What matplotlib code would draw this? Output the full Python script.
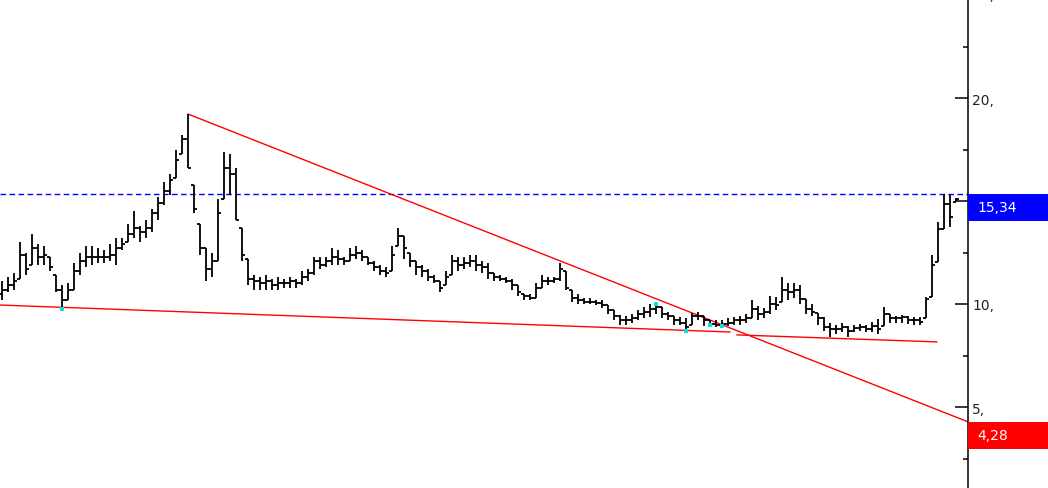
import numpy as np
import matplotlib
matplotlib.use("Agg")
import matplotlib.pyplot as plt
from matplotlib.patches import Rectangle
from matplotlib.transforms import blended_transform_factory

# ---------------- data ----------------
highs = [11.1, 11.3, 11.5, 13.0, 12.5, 13.4, 12.9, 12.8, 12.3, 11.4,
         10.9, 11.0, 12.0, 12.5, 12.8, 12.8, 12.7, 12.6, 12.9, 13.2,
         13.2, 13.9, 14.5, 13.8, 14.1, 14.6, 15.2, 15.9, 16.3, 17.5,
         18.2, 19.22, 15.8, 13.9, 12.7, 12.5, 15.1, 17.4, 17.3, 16.6,
         13.7, 12.2, 11.4, 11.3, 11.4, 11.2, 11.3, 11.2, 11.3, 11.2,
         11.6, 11.7, 12.3, 12.3, 12.3, 12.7, 12.6, 12.3, 12.7, 12.8,
         12.6, 12.3, 12.1, 11.9, 11.8, 12.8, 13.7, 13.3, 12.5, 12.1,
         11.9, 11.7, 11.4, 11.1, 11.6, 12.4, 12.3, 12.3, 12.4, 12.4,
         12.1, 12.0, 11.5, 11.4, 11.3, 11.2, 10.9, 10.5, 10.5, 11.0,
         11.4, 11.3, 11.3, 12.0, 11.6, 10.7, 10.5, 10.3, 10.3, 10.2,
         10.2, 9.95, 9.7, 9.45, 9.4, 9.5, 9.7, 9.85, 10.0, 10.05,
         9.85, 9.6, 9.4, 9.35, 9.3, 9.55, 9.6, 9.4, 9.2, 9.2,
         9.2, 9.3, 9.35, 9.4, 9.5, 10.2, 9.9, 9.8, 10.4, 10.35,
         11.3, 11.0, 11.0, 10.9, 10.25, 10.0, 9.55, 9.35, 9.1, 9.0,
         9.1, 8.95, 9.0, 9.05, 9.0, 9.15, 9.25, 9.85, 9.5, 9.4,
         9.45, 9.4, 9.35, 9.35, 10.35, 12.4, 14.0, 15.34, 15.3, 15.15]

lows = [10.2, 10.6, 10.7, 11.2, 11.4, 11.9, 11.9, 11.9, 11.6, 10.6,
        9.76, 10.2, 10.7, 11.4, 11.8, 11.9, 12.0, 12.0, 12.1, 11.9,
        12.6, 13.0, 13.2, 13.0, 13.2, 13.5, 14.1, 14.8, 15.3, 16.1,
        17.3, 16.6, 14.4, 12.4, 11.1, 11.3, 12.1, 15.1, 15.3, 14.1,
        12.1, 10.9, 10.7, 10.7, 10.7, 10.7, 10.7, 10.8, 10.8, 10.8,
        10.9, 11.1, 11.4, 11.7, 11.8, 11.9, 11.9, 11.9, 12.1, 12.2,
        12.1, 11.9, 11.6, 11.4, 11.3, 11.6, 12.8, 12.2, 11.8, 11.4,
        11.3, 11.1, 11.0, 10.6, 10.9, 11.4, 11.6, 11.7, 11.8, 11.6,
        11.5, 11.2, 11.1, 11.1, 11.0, 10.7, 10.4, 10.2, 10.2, 10.3,
        10.8, 10.9, 11.0, 11.1, 10.7, 10.1, 10.0, 10.0, 10.0, 9.95,
        9.8, 9.5, 9.2, 9.0, 9.0, 9.1, 9.2, 9.3, 9.35, 9.5,
        9.3, 9.2, 9.0, 9.0, 8.65, 9.0, 9.2, 8.95, 8.9, 8.9,
        8.9, 8.95, 9.0, 9.0, 9.1, 9.3, 9.2, 9.3, 9.5, 9.7,
        10.1, 10.2, 10.3, 10.0, 9.5, 9.4, 9.0, 8.7, 8.4, 8.55,
        8.65, 8.4, 8.65, 8.7, 8.65, 8.65, 8.55, 8.95, 9.1, 9.1,
        9.1, 9.05, 9.0, 9.0, 9.3, 10.35, 12.05, 13.65, 13.75, 14.95]

closes = [10.7, 10.9, 11.1, 12.4, 11.7, 12.7, 12.3, 12.4, 11.8, 10.7,
          10.2, 10.7, 11.6, 12.1, 12.3, 12.3, 12.3, 12.3, 12.4, 12.7,
          12.9, 13.4, 13.7, 13.5, 13.7, 14.4, 14.9, 15.5, 16.0, 17.0,
          18.0, 16.6, 14.6, 12.7, 11.7, 12.1, 14.4, 16.6, 16.3, 14.1,
          12.4, 11.2, 11.1, 11.0, 11.1, 10.9, 11.0, 11.0, 11.1, 11.0,
          11.3, 11.5, 12.1, 11.9, 12.1, 12.3, 12.2, 12.1, 12.4, 12.5,
          12.3, 12.0, 11.8, 11.6, 11.5, 12.4, 13.3, 12.7, 12.1, 11.8,
          11.6, 11.3, 11.1, 10.8, 11.3, 12.1, 11.9, 12.0, 12.1, 11.9,
          11.8, 11.5, 11.3, 11.2, 11.1, 10.9, 10.6, 10.4, 10.3, 10.8,
          11.1, 11.1, 11.2, 11.7, 10.8, 10.3, 10.2, 10.1, 10.1, 10.05,
          9.95, 9.7, 9.4, 9.2, 9.2, 9.3, 9.5, 9.6, 9.75, 9.85,
          9.5, 9.4, 9.2, 9.1, 8.9, 9.4, 9.4, 9.2, 9.05, 9.0,
          9.05, 9.1, 9.2, 9.2, 9.3, 9.75, 9.5, 9.6, 10.0, 9.95,
          10.7, 10.6, 10.7, 10.25, 9.75, 9.6, 9.3, 8.9, 8.8, 8.8,
          8.9, 8.7, 8.85, 8.9, 8.8, 8.95, 8.8, 9.5, 9.3, 9.3,
          9.35, 9.2, 9.2, 9.15, 10.25, 11.9, 13.65, 14.85, 14.2, 15.1]

first_open = 10.5

# trend lines (x in bar index, y in price)
upper_line_x = [31, 161]
upper_line_y = [19.22, 4.28]
support1_x = [-0.33, 121.3]
support1_y = [9.95, 8.64]
support2_x = [122.5, 155.8]
support2_y = [8.50, 8.16]

# touch points highlighted in cyan
touch_x = [10, 109, 114, 118, 120]
touch_y = [9.76, 10.0, 8.7, 9.0, 8.95]

last_price = 15.34
target_price = 4.28
last_label = "15,34"
target_label = "4,28"

major_ticks = [5, 10, 15, 20]
minor_ticks = [2.5, 7.5, 12.5, 17.5, 22.5]
tick_labels = ["5,", "10,", "", "20,"]
top_tick = 25
top_label = "25,"

# ---------------- plot ----------------
W, H = 1048, 489
fig = plt.figure(figsize=(W / 100, H / 100), dpi=100)
ax_right_px = 968
ax = fig.add_axes([0, 0, ax_right_px / W, 1])

x = np.arange(len(closes))
hi = np.array(highs)
lo = np.array(lows)
cl = np.array(closes)
op = np.clip(np.concatenate([[first_open], cl[:-1]]), lo, hi)

tk = 0.5
ax.vlines(x, lo, hi, color="black", lw=1.3, zorder=3)
ax.hlines(op, x - tk, x, color="black", lw=1.3, zorder=3)
ax.hlines(cl, x, x + tk, color="black", lw=1.3, zorder=3)

red = "#ff0000"
ax.plot(upper_line_x, upper_line_y, color=red, lw=1.0, zorder=2)
ax.plot(support1_x, support1_y, color=red, lw=1.0, zorder=2)
ax.plot(support2_x, support2_y, color=red, lw=1.0, zorder=2)

ax.scatter(touch_x, touch_y, s=6, color="#00e5e5", marker="s", zorder=4, linewidths=0)

ax.axhline(last_price, color="#0000ff", lw=1.0, ls=(0, (4, 2.5)), zorder=1)

ymax = 20 + 99 / 20.6
ymin = 20 - 390 / 20.6
ax.set_ylim(ymin, ymax)
ax.set_xlim(-2 / 6, (ax_right_px - 2) / 6)

for s in ["left", "top", "bottom"]:
    ax.spines[s].set_visible(False)
ax.spines["right"].set_linewidth(1.1)
ax.spines["right"].set_color("black")
ax.set_xticks([])
ax.yaxis.tick_right()
ax.set_yticks(major_ticks)
ax.set_yticklabels(tick_labels)
ax.set_yticks(minor_ticks, minor=True)
ax.tick_params(axis="y", which="major", direction="in", length=9.4, width=1.1,
               pad=3, labelsize=10, colors="black")
ax.tick_params(axis="y", which="minor", direction="in", length=3.8, width=1.1)
for lab in ax.get_yticklabels():
    lab.set_color("#222222")

trans = blended_transform_factory(ax.transAxes, ax.transData)
ax.text(1.0 + 4 / ax_right_px, top_tick, top_label, transform=trans, fontsize=10,
        color="#222222", va="center", ha="left", clip_on=False)

box_w = (W - ax_right_px) / ax_right_px
box_h = 27 / 20.6
for val, lab, col in [(last_price, last_label, "#0000ff"),
                      (target_price, target_label, "#ff0000")]:
    ax.add_patch(Rectangle((1.0, val - box_h), box_w, box_h, transform=trans,
                           facecolor=col, edgecolor="none", clip_on=False, zorder=10))
    ax.text(1.0 + 9 / ax_right_px, val - box_h / 2, lab, transform=trans,
            fontsize=10, color="white", va="center", ha="left",
            clip_on=False, zorder=11)

fig.savefig("out.png", dpi=100)
